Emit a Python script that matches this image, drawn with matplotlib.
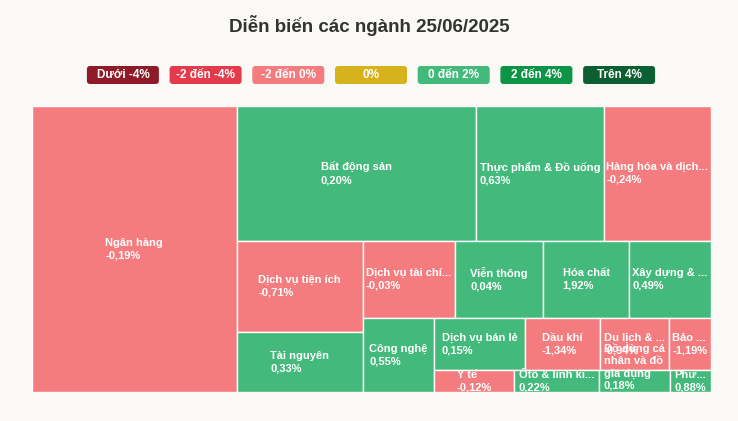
import textwrap

import matplotlib
matplotlib.use("Agg")
import matplotlib.pyplot as plt
from matplotlib.patches import Rectangle, FancyBboxPatch
from matplotlib.font_manager import FontProperties

plt.rcParams['font.family'] = ['Liberation Sans', 'DejaVu Sans']

# data
TITLE = "Diễn biến các ngành 25/06/2025"

sectors = [
    "Ngân hàng", "Bất động sản", "Thực phẩm & Đồ uống",
    "Hàng hóa và dịch vụ công nghiệp", "Dịch vụ tiện ích", "Tài nguyên",
    "Dịch vụ tài chính", "Viễn thông", "Hóa chất", "Xây dựng & Vật liệu",
    "Công nghệ", "Dịch vụ bán lẻ", "Dầu khí", "Du lịch & Giải trí",
    "Bảo hiểm", "Y tế", "Ôtô & linh kiện phụ tùng",
    "Đồ dùng cá nhân và đồ gia dụng", "Phương tiện truyền thông",
]
changes = [-0.19, 0.20, 0.63, -0.24, -0.71, 0.33, -0.03, 0.04, 1.92, 0.49,
           0.55, 0.15, -1.34, -0.94, -1.19, -0.12, 0.22, 0.18, 0.88]
# relative weight of each sector
weights = [58.5, 32.3, 17.2, 14.5, 11.4, 7.6, 7.1, 6.8, 6.6, 6.3,
           5.3, 4.7, 3.9, 3.6, 2.2, 1.76, 1.85, 1.56, 0.90]

# labels that wrap instead of getting cut with an ellipsis
wrap_labels = {"Đồ dùng cá nhân và đồ gia dụng"}

legend_labels = ["Dưới -4%", "-2 đến -4%", "-2 đến 0%", "0%",
                 "0 đến 2%", "2 đến 4%", "Trên 4%"]
legend_colors = ["#8e1b27", "#e33b4b", "#f47c7e", "#d6b31c",
                 "#43ba7b", "#0e9447", "#0b5f30"]

BG = "#faf9f6"
W_PX, H_PX = 738, 421


def color_for(v):
    if v < -4:
        return legend_colors[0]
    if v < -2:
        return legend_colors[1]
    if v < 0:
        return legend_colors[2]
    if v == 0:
        return legend_colors[3]
    if v <= 2:
        return legend_colors[4]
    if v <= 4:
        return legend_colors[5]
    return legend_colors[6]


def aspect(a, b):
    return max(a / b, b / a)


def treemap(values, x, y, w, h):
    """Squarified layout, direction alternating per row (starts vertical)."""
    total = sum(values)
    areas = [v * w * h / total for v in values]
    rects = []
    vertical = True
    i, n = 0, len(areas)
    while i < n:
        row = [areas[i]]
        i += 1
        side = h if vertical else w
        while i < n:
            last = row[-1]
            t_old = sum(row) / side
            t_new = (sum(row) + areas[i]) / side
            if aspect(t_new, last / t_new) > aspect(t_old, last / t_old):
                break
            row.append(areas[i])
            i += 1
        thick = sum(row) / side
        pos = y if vertical else x
        for a in row:
            ln = a / thick
            if vertical:
                rects.append((x, pos, thick, ln))
            else:
                rects.append((pos, y, ln, thick))
            pos += ln
        if vertical:
            x += thick
            w -= thick
        else:
            y += thick
            h -= thick
        vertical = not vertical
    return rects


def fmt(v):
    return f"{v:.2f}".replace(".", ",") + "%"


fig = plt.figure(figsize=(W_PX / 100, H_PX / 100), dpi=100)
fig.patch.set_facecolor(BG)

# treemap area in pixels
left, top, right, bottom = 32, 106, 711, 392
PW, PH = right - left, bottom - top
ax = fig.add_axes([left / W_PX, 1 - bottom / H_PX, PW / W_PX, PH / H_PX])
ax.set_xlim(0, PW)
ax.set_ylim(PH, 0)
ax.axis("off")

renderer = fig.canvas.get_renderer()
fp = FontProperties(family=['Liberation Sans', 'DejaVu Sans'], weight='bold', size=8)


def text_w(s):
    return renderer.get_text_width_height_descent(s, fp, ismath=False)[0]


rects = treemap(weights, 0, 0, PW, PH)
for name, chg, (rx, ry, rw, rh) in zip(sectors, changes, rects):
    ax.add_patch(Rectangle((rx, ry), rw, rh, facecolor=color_for(chg),
                           edgecolor="white", linewidth=1.0))
    cx, cy = rx + rw / 2, ry + rh / 2
    va = "center"
    if name in wrap_labels:
        label = "\n".join(textwrap.wrap(name, 10))
        if ry + rh >= PH - 1:
            cy, va = PH - 1, "bottom"
    else:
        label = name
        maxw = rw - 4
        if text_w(label) > maxw:
            while label and text_w(label + "...") > maxw:
                label = label[:-1]
            label = label + "..."
    ax.text(cx, cy, label + "\n" + fmt(chg), ha="center", va=va,
            multialignment="left", fontproperties=fp, color="white",
            linespacing=1.3, clip_on=True)

# title and legend on an overlay in pixel units
ov = fig.add_axes([0, 0, 1, 1], facecolor="none")
ov.set_xlim(0, W_PX)
ov.set_ylim(H_PX, 0)
ov.axis("off")

ov.text(W_PX / 2, 25, TITLE, ha="center", va="center", fontsize=13.5,
        fontweight="bold", color="#333333")

box_w, box_h, gap = 72, 18, 10.7
total_w = len(legend_labels) * box_w + (len(legend_labels) - 1) * gap
x0 = (W_PX - total_w) / 2 + 2
for k, (lab, col) in enumerate(zip(legend_labels, legend_colors)):
    bx = x0 + k * (box_w + gap)
    ov.add_patch(FancyBboxPatch((bx, 75 - box_h / 2), box_w, box_h,
                                boxstyle="round,pad=0,rounding_size=3",
                                facecolor=col, edgecolor="none"))
    ov.text(bx + box_w / 2, 75, lab, ha="center", va="center",
            fontsize=8.5, fontweight="bold", color="white")

fig.savefig("out.png", dpi=100, facecolor=BG)
